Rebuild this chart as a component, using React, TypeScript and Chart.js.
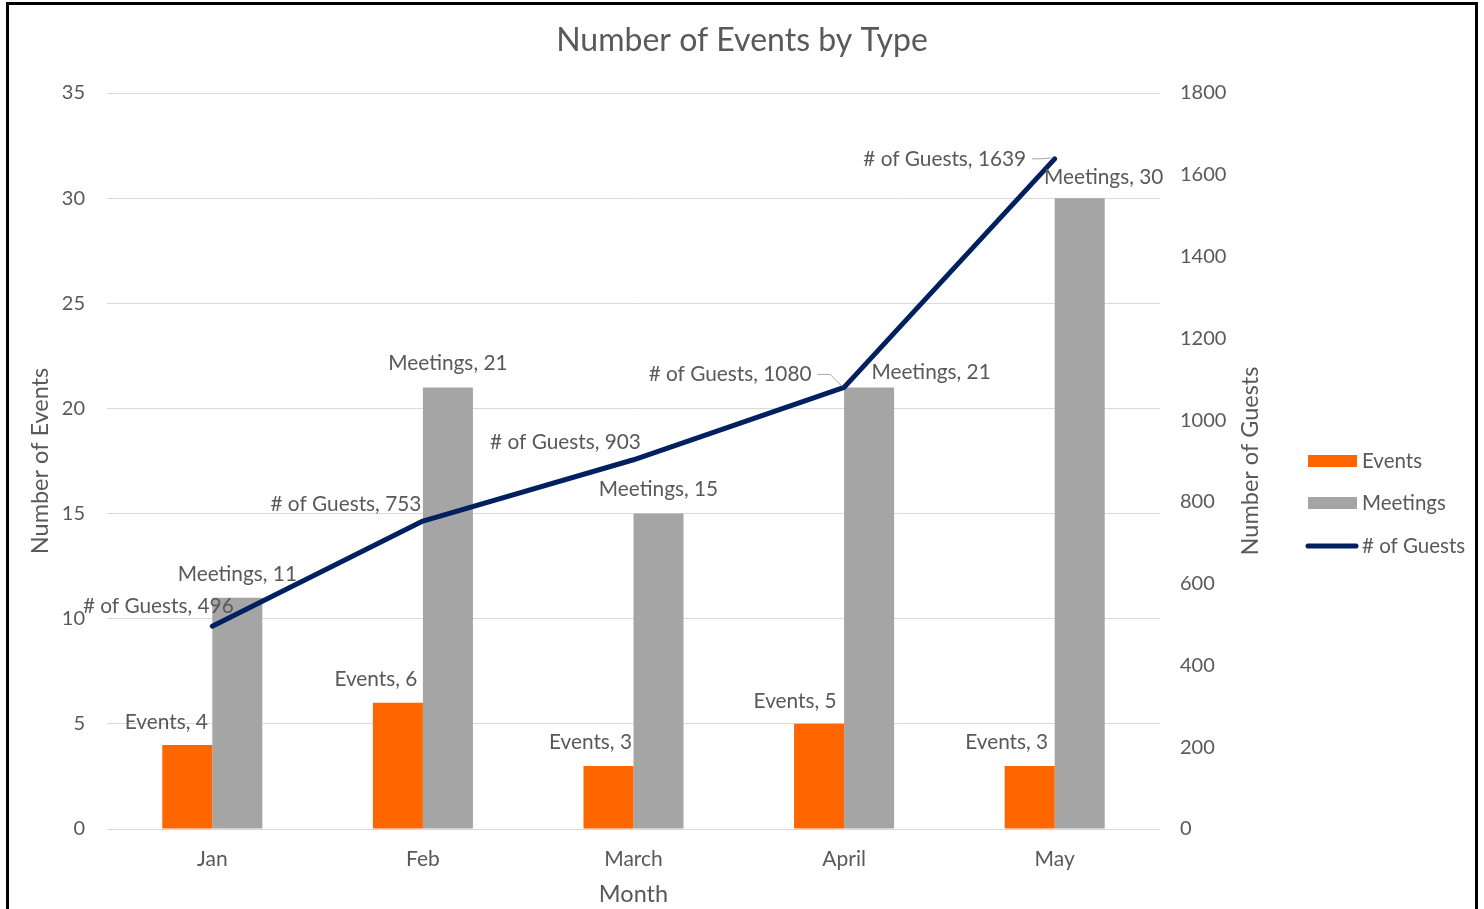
import React, { useEffect, useRef } from "react";
import { Chart, registerables } from "chart.js";

Chart.register(...registerables);

const months = ["Jan", "Feb", "March", "April", "May"];
const events = [4, 6, 3, 5, 3];
const meetings = [11, 21, 15, 21, 30];
const guests = [496, 753, 903, 1080, 1639];

const eventsMax = 35;
const eventsStep = 5;
const guestsMax = 1800;
const guestsStep = 200;

// label placement (pixel offsets from the mark), styling only
const labelOffsets = [
  [[-21, -23], [-22, -24], [-18, -24], [-24, -23], [-23, -24]],
  [[0, -23], [0, -24], [0, -24], [62, -15], [24, -21]],
  [[-54, -20], [-77, -17], [-68, -17], [-114, -13], [-110, 0]],
];
const leaderLines = [false, false, false, true, true];

const FONT = "Lato";
const TEXT = "#595959";

const dataLabelPlugin = {
  id: "dataLabels",
  afterDatasetsDraw(chart: any) {
    const ctx = chart.ctx;
    ctx.save();
    ctx.font = `20.8px ${FONT}`;
    ctx.fillStyle = TEXT;
    ctx.textAlign = "center";
    ctx.textBaseline = "middle";
    chart.data.datasets.forEach((ds: any, di: number) => {
      const meta = chart.getDatasetMeta(di);
      meta.data.forEach((el: any, i: number) => {
        const [dx, dy] = labelOffsets[di][i];
        const txt = `${ds.label}, ${ds.data[i]}`;
        const lx = el.x + dx;
        const ly = el.y + dy;
        ctx.fillText(txt, lx, ly);
        if (di === 2 && leaderLines[i]) {
          const w = ctx.measureText(txt).width;
          ctx.save();
          ctx.strokeStyle = "#A6A6A6";
          ctx.lineWidth = 1;
          ctx.beginPath();
          ctx.moveTo(lx + w / 2 + 6, ly);
          ctx.lineTo(el.x - 14, ly);
          ctx.lineTo(el.x - 2, el.y - 1);
          ctx.stroke();
          ctx.restore();
        }
      });
    });
    ctx.restore();
  },
};

const legendPlugin = {
  id: "customLegend",
  afterDraw(chart: any) {
    const ctx = chart.ctx;
    ctx.save();
    ctx.font = `20.5px ${FONT}`;
    ctx.textAlign = "left";
    ctx.textBaseline = "middle";
    const ys = [461, 503, 546];
    chart.data.datasets.forEach((ds: any, di: number) => {
      const y = ys[di];
      if (ds.type === "line") {
        ctx.strokeStyle = ds.borderColor;
        ctx.lineWidth = 5;
        ctx.lineCap = "round";
        ctx.beginPath();
        ctx.moveTo(1308, y);
        ctx.lineTo(1356, y);
        ctx.stroke();
      } else {
        ctx.fillStyle = ds.backgroundColor;
        ctx.fillRect(1308, y - 6, 49, 12);
      }
      ctx.fillStyle = TEXT;
      ctx.fillText(ds.label, 1362, y);
    });
    ctx.restore();
  },
};

const textPlugin = {
  id: "chartTexts",
  afterDraw(c: any) {
    const ctx = c.ctx;
    ctx.save();
    ctx.fillStyle = TEXT;
    ctx.textAlign = "center";
    ctx.textBaseline = "middle";
    ctx.font = `32px ${FONT}`;
    ctx.fillText("Number of Events by Type", 742, 41);
    // right axis title, reading bottom-to-top
    const y1 = c.scales.y1;
    ctx.font = `23.5px ${FONT}`;
    ctx.translate(1250, (y1.top + y1.bottom) / 2);
    ctx.rotate(-Math.PI / 2);
    ctx.fillText("Number of Guests", 0, 0);
    ctx.restore();
  },
};

export default function App() {
  const ref = useRef<HTMLCanvasElement>(null);
  useEffect(() => {
    if (!ref.current) return;
    const chart = new Chart(ref.current, {
      type: "bar",
      data: {
        labels: months,
        datasets: [
          {
            type: "bar",
            label: "Events",
            data: events,
            backgroundColor: "#FF6600",
            yAxisID: "y",
            order: 1,
            categoryPercentage: 0.475,
            barPercentage: 1,
          },
          {
            type: "bar",
            label: "Meetings",
            data: meetings,
            backgroundColor: "#A5A5A5",
            yAxisID: "y",
            order: 2,
            categoryPercentage: 0.475,
            barPercentage: 1,
          },
          {
            type: "line",
            label: "# of Guests",
            data: guests,
            borderColor: "#002060",
            backgroundColor: "#002060",
            borderWidth: 5,
            borderCapStyle: "round",
            borderJoinStyle: "round",
            pointRadius: 0,
            tension: 0,
            yAxisID: "y1",
            order: 0,
          },
        ] as any,
      },
      options: {
        animation: false,
        responsive: false,
        maintainAspectRatio: false,
        layout: { padding: { left: 0, right: 214, top: 93, bottom: 0 } },
        plugins: {
          legend: { display: false },
          tooltip: { enabled: false },
          title: { display: false },
        },
        scales: {
          x: {
            grid: { display: false },
            border: { display: false },
            ticks: { color: TEXT, font: { family: FONT, size: 21 }, padding: 10 },
            title: {
              display: true,
              text: "Month",
              color: TEXT,
              font: { family: FONT, size: 23.5 },
              padding: { top: 0, bottom: 0 },
            },
            afterFit: (s: any) => {
              s.height = 80;
            },
          },
          y: {
            position: "left",
            min: 0,
            max: eventsMax,
            ticks: {
              stepSize: eventsStep,
              color: TEXT,
              font: { family: FONT, size: 20 },
              padding: 22,
            },
            grid: { color: "#D9D9D9", lineWidth: 1, drawTicks: false },
            border: { display: false },
            title: {
              display: true,
              text: "Number of Events",
              color: TEXT,
              font: { family: FONT, size: 23.5 },
              padding: { top: 26, bottom: 0 },
            },
            afterFit: (s: any) => {
              s.width = 107;
            },
          },
          y1: {
            position: "right",
            min: 0,
            max: guestsMax,
            ticks: {
              stepSize: guestsStep,
              color: TEXT,
              font: { family: FONT, size: 20 },
              padding: 20,
              callback: (v: any) => String(v),
            },
            grid: { display: false, drawTicks: false },
            border: { display: false },
            title: { display: false },
            afterFit: (s: any) => {
              s.width = 110;
            },
          },
        },
      },
      plugins: [dataLabelPlugin, legendPlugin, textPlugin],
    } as any);
    return () => chart.destroy();
  }, []);

  return (
    <div style={{ position: "fixed", left: 0, top: 0, width: 1484, height: 909, background: "#fff", overflow: "hidden" }}>
      <div
        style={{
          position: "absolute",
          left: 6,
          top: 2,
          width: 1466,
          height: 940,
          border: "3px solid #000",
        }}
      />
      <canvas ref={ref} width={1484} height={909} style={{ position: "absolute", left: 0, top: 0 }} />
    </div>
  );
}
